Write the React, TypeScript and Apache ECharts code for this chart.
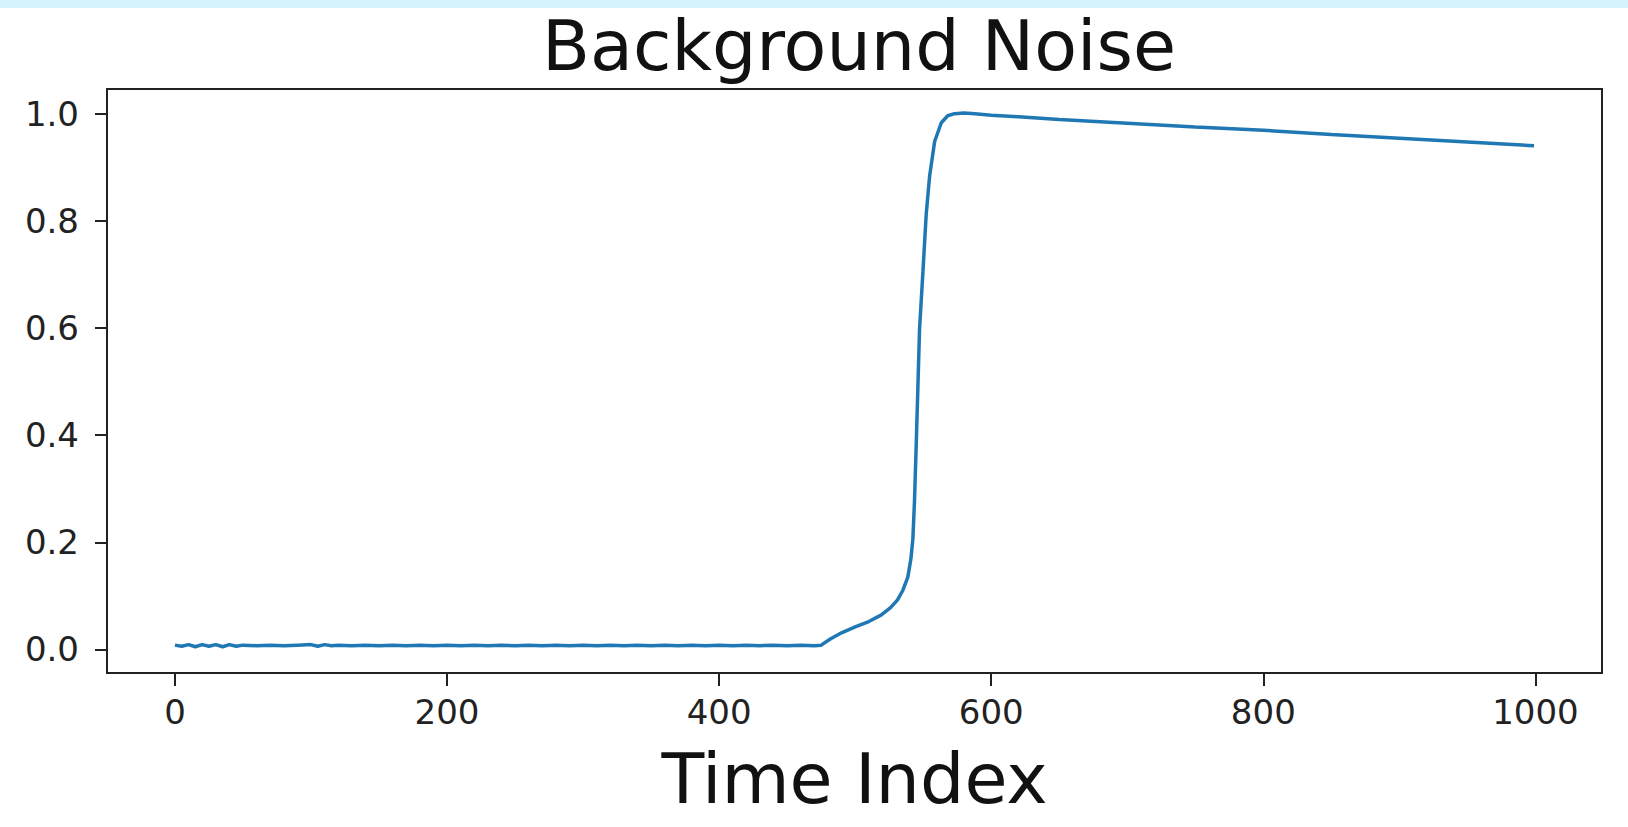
import React, { useEffect, useRef } from "react";
import * as echarts from "echarts";

const chartTitle = "Background Noise";
const xAxisName = "Time Index";

const xTickValues = [0, 200, 400, 600, 800, 1000];
const yTickValues = [0, 0.2, 0.4, 0.6, 0.8, 1.0];

// flat background part
const flatIndex = [
  0, 5, 10, 15, 20, 25, 30, 35, 40, 45, 50, 60, 70, 80, 90, 100, 105, 110, 115, 120, 130, 140,
  150, 160, 170, 180, 190, 200, 210, 220, 230, 240, 250, 260, 270, 280, 290, 300, 310, 320,
  330, 340, 350, 360, 370, 380, 390, 400, 410, 420, 430, 440, 450, 460, 470,
];
const flatLevel = [
  0.008, 0.006, 0.009, 0.005, 0.009, 0.006, 0.009, 0.005, 0.009, 0.006, 0.008, 0.007, 0.008,
  0.007, 0.008, 0.009, 0.006, 0.009, 0.007, 0.008, 0.007, 0.008, 0.007, 0.008, 0.007, 0.008,
  0.007, 0.008, 0.007, 0.008, 0.007, 0.008, 0.007, 0.008, 0.007, 0.008, 0.007, 0.008, 0.007,
  0.008, 0.007, 0.008, 0.007, 0.008, 0.007, 0.008, 0.007, 0.008, 0.007, 0.008, 0.007, 0.008,
  0.007, 0.008, 0.007,
];

// rise and slow decay part
const riseIndex = [
  475, 482, 490, 500, 510, 519, 526, 531, 535, 538.7, 541, 542.4, 543.6, 544.9, 546.1, 547.3,
  549.8, 552.2, 554.7, 558.4, 563.3, 568, 573, 580, 588, 600, 620, 650, 700, 750, 800, 850,
  900, 950, 999,
];
const riseLevel = [
  0.008, 0.02, 0.031, 0.042, 0.052, 0.064, 0.078, 0.092, 0.11, 0.135, 0.17, 0.206, 0.277,
  0.385, 0.49, 0.597, 0.705, 0.812, 0.883, 0.948, 0.983, 0.996, 1.0, 1.001, 1.0, 0.997,
  0.994, 0.989, 0.982, 0.975, 0.969, 0.961, 0.954, 0.947, 0.94,
];

export default function App() {
  const ref = useRef<HTMLDivElement>(null);

  useEffect(() => {
    if (!ref.current) return;
    const chart = echarts.init(ref.current, undefined, { renderer: "svg" });
    const data: [number, number][] = [];
    flatIndex.forEach((x, i) => data.push([x, flatLevel[i]]));
    riseIndex.forEach((x, i) => data.push([x, riseLevel[i]]));

    const font = "DejaVu Sans";
    chart.setOption({
      animation: false,
      backgroundColor: "#ffffff",
      graphic: [
        {
          type: "rect",
          left: 0,
          top: 0,
          shape: { width: 1628, height: 8 },
          style: { fill: "#d4f3fd" },
          silent: true,
        },
      ],
      title: {
        text: chartTitle,
        left: 854,
        textAlign: "center",
        top: 6,
        textStyle: { fontFamily: font, fontSize: 70, fontWeight: "normal", color: "#111111" },
      },
      grid: {
        left: 107,
        right: 26,
        top: 89,
        bottom: 154,
        show: true,
        borderColor: "#222222",
        borderWidth: 2,
        backgroundColor: "#ffffff",
      },
      xAxis: {
        type: "value",
        min: -49.95,
        max: 1048.95,
        name: xAxisName,
        nameLocation: "middle",
        nameGap: 71,
        nameTextStyle: { fontFamily: font, fontSize: 70, color: "#111111" },
        axisLine: { show: false, onZero: false },
        splitLine: { show: false },
        axisTick: {
          show: true,
          inside: false,
          length: 13,
          lineStyle: { color: "#222222", width: 2 },
          customValues: xTickValues,
        },
        axisLabel: {
          fontFamily: font,
          fontSize: 34,
          color: "#222222",
          margin: 22,
          customValues: xTickValues,
          formatter: (v: number) => String(v),
        },
      },
      yAxis: {
        type: "value",
        min: -0.044,
        max: 1.046,
        axisLine: { show: false, onZero: false },
        splitLine: { show: false },
        axisTick: {
          show: true,
          inside: false,
          length: 12,
          lineStyle: { color: "#222222", width: 2 },
          customValues: yTickValues,
        },
        axisLabel: {
          fontFamily: font,
          fontSize: 34,
          color: "#222222",
          margin: 28,
          customValues: yTickValues,
          formatter: (v: number) => v.toFixed(1),
        },
      },
      series: [
        {
          type: "line",
          data,
          showSymbol: false,
          lineStyle: { color: "#1f77b4", width: 3.5 },
          itemStyle: { color: "#1f77b4" },
        },
      ],
    });
    return () => chart.dispose();
  }, []);

  return (
    <div
      ref={ref}
      style={{ position: "fixed", left: 0, top: 0, width: 1628, height: 827 }}
    />
  );
}
